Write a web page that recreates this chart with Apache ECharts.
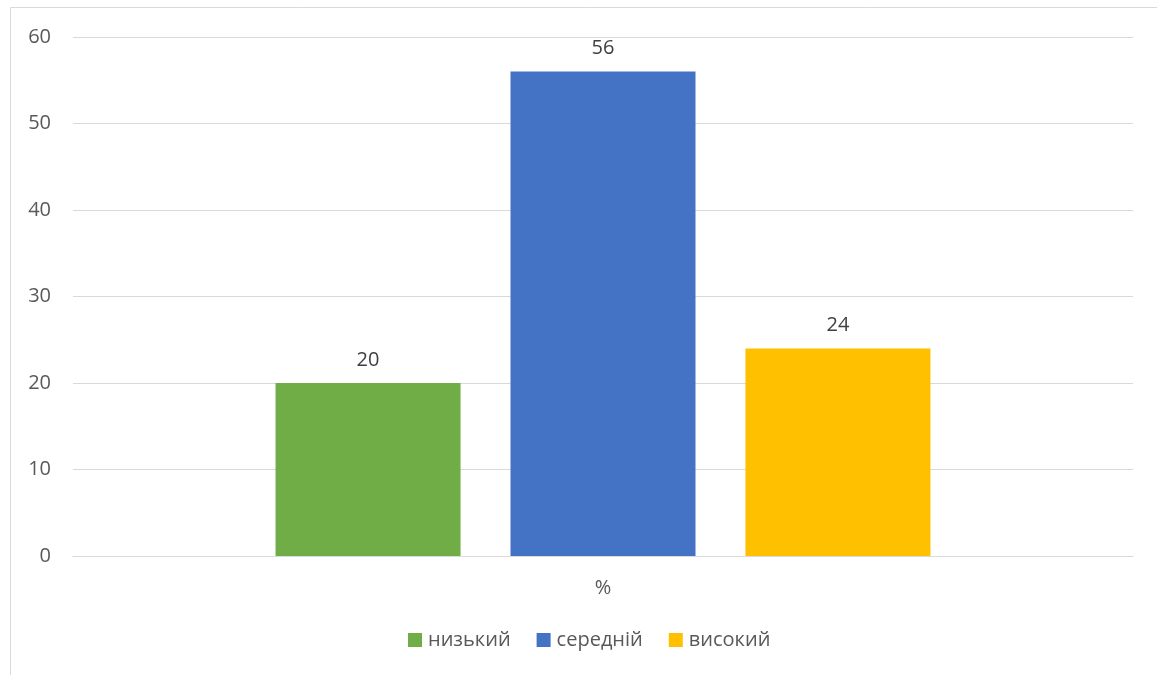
<!DOCTYPE html>
<html><head><meta charset="utf-8">
<script src="https://cdn.jsdelivr.net/npm/echarts@6/dist/echarts.min.js"></script>
<style>html,body{margin:0;padding:0;background:#fff}#c{width:1157px;height:675px}</style>
</head><body><div id="c"></div>
<script>
const categories = ['%'];
const seriesNames = ['низький', 'середній', 'високий'];
const seriesValues = [[20], [56], [24]];
const seriesColors = ['#70AD47', '#4472C4', '#FFC000'];
const yTicks = [0, 10, 20, 30, 40, 50, 60];

const chart = echarts.init(document.getElementById('c'));
const font = '"Open Sans", "Noto Sans", sans-serif';
chart.setOption({
  animation: false,
  graphic: [{type: 'rect', shape: {x: 10.5, y: 7.5, width: 1160, height: 700}, style: {fill: 'none', stroke: '#D9D9D9', lineWidth: 1}, silent: true, z: -1}],
  grid: {left: 73, right: 24, top: 37, bottom: 119},
  legend: {
    bottom: 20, left: 403, itemWidth: 14, itemHeight: 14, itemGap: 26,
    icon: 'rect',
    textStyle: {color: '#595959', fontSize: 20, fontFamily: font, padding: [0, 0, 0, 1]},
    data: seriesNames
  },
  xAxis: {
    type: 'category', data: categories,
    axisLine: {lineStyle: {color: '#D9D9D9'}}, axisTick: {show: false},
    axisLabel: {color: '#595959', fontSize: 20, fontFamily: font, margin: 22}
  },
  yAxis: {
    type: 'value', min: yTicks[0], max: yTicks[yTicks.length - 1], interval: 10,
    axisLine: {show: false}, axisTick: {show: false},
    splitLine: {lineStyle: {color: '#D9D9D9'}},
    axisLabel: {color: '#595959', fontSize: 20, fontFamily: font, margin: 22}
  },
  series: seriesNames.map((n, i) => ({
    name: n, type: 'bar', data: seriesValues[i], barWidth: 185, barGap: '27%',
    itemStyle: {color: seriesColors[i]},
    label: {show: true, position: 'top', distance: 13, color: '#404040', fontSize: 20, fontFamily: font}
  }))
});
</script></body></html>
